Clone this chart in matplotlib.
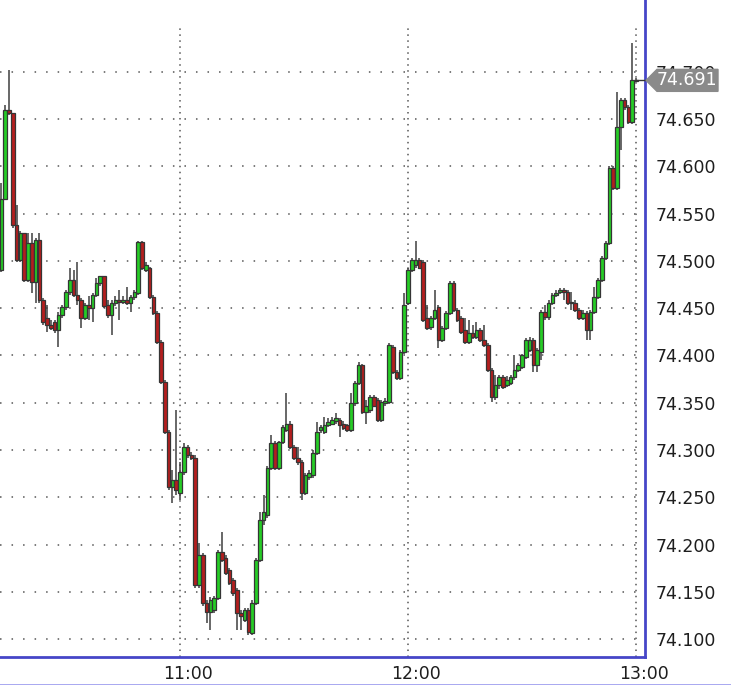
import matplotlib
matplotlib.use('Agg')
import matplotlib.pyplot as plt
import matplotlib.dates as mdates
import matplotlib.transforms as mtransforms
from matplotlib.patches import Polygon
from matplotlib.lines import Line2D
import pandas as pd

start_time = "2024-01-01 10:13"

opens = [74.490,74.566,74.660,74.656,74.538,74.501,74.529,74.480,74.519,74.478,
74.522,74.459,74.440,74.432,74.435,74.427,74.443,74.451,74.467,74.480,
74.464,74.459,74.440,74.453,74.450,74.464,74.477,74.484,74.453,74.443,
74.455,74.459,74.457,74.459,74.455,74.462,74.466,74.520,74.490,74.492,
74.462,74.445,74.414,74.372,74.319,74.261,74.268,74.255,74.277,74.303,
74.295,74.292,74.157,74.189,74.138,74.129,74.131,74.143,74.192,74.186,
74.173,74.162,74.152,74.128,74.120,74.131,74.106,74.138,74.184,74.226,
74.231,74.281,74.307,74.281,74.308,74.321,74.328,74.303,74.291,74.287,
74.254,74.271,74.273,74.297,74.321,74.319,74.326,74.328,74.331,74.332,
74.328,74.326,74.321,74.350,74.371,74.390,74.340,74.342,74.356,74.353,
74.332,74.350,74.351,74.409,74.382,74.376,74.404,74.455,74.490,74.496,
74.501,74.499,74.440,74.430,74.440,74.451,74.416,74.429,74.445,74.477,
74.448,74.440,74.427,74.414,74.424,74.419,74.427,74.416,74.411,74.385,
74.356,74.369,74.377,74.369,74.371,74.377,74.385,74.388,74.398,74.406,
74.416,74.390,74.404,74.446,74.441,74.455,74.464,74.467,74.469,74.467,
74.456,74.456,74.448,74.440,74.445,74.427,74.446,74.462,74.480,74.503,
74.519,74.598,74.577,74.642,74.670,74.663,74.647,74.690]

highs = [74.582,74.665,74.702,74.656,74.559,74.532,74.530,74.529,74.529,74.524,
74.530,74.461,74.453,74.437,74.437,74.446,74.453,74.469,74.492,74.490,
74.499,74.461,74.456,74.463,74.466,74.482,74.484,74.484,74.459,74.459,
74.463,74.469,74.463,74.472,74.464,74.469,74.521,74.521,74.499,74.494,
74.464,74.447,74.416,74.374,74.321,74.279,74.342,74.287,74.307,74.305,
74.298,74.295,74.202,74.191,74.141,74.144,74.145,74.194,74.213,74.189,
74.175,74.165,74.154,74.131,74.133,74.133,74.141,74.186,74.234,74.252,
74.283,74.316,74.309,74.310,74.326,74.360,74.331,74.305,74.303,74.289,
74.276,74.279,74.300,74.330,74.326,74.335,74.334,74.335,74.339,74.334,
74.331,74.328,74.360,74.373,74.393,74.391,74.353,74.358,74.358,74.355,
74.353,74.355,74.413,74.411,74.385,74.406,74.466,74.492,74.503,74.521,
74.503,74.501,74.453,74.442,74.469,74.453,74.431,74.447,74.479,74.479,
74.450,74.442,74.440,74.437,74.432,74.435,74.429,74.432,74.413,74.387,
74.379,74.379,74.379,74.378,74.379,74.400,74.392,74.402,74.418,74.420,
74.418,74.408,74.448,74.453,74.459,74.466,74.469,74.471,74.471,74.469,
74.467,74.459,74.450,74.448,74.447,74.448,74.472,74.482,74.505,74.521,
74.600,74.600,74.679,74.672,74.672,74.665,74.730,74.693]

lows = [74.488,74.564,74.654,74.535,74.499,74.499,74.478,74.478,74.466,74.455,
74.456,74.432,74.425,74.427,74.424,74.409,74.440,74.448,74.464,74.462,
74.453,74.429,74.437,74.437,74.435,74.462,74.473,74.450,74.440,74.422,
74.452,74.437,74.454,74.453,74.446,74.459,74.464,74.490,74.488,74.460,
74.443,74.412,74.370,74.317,74.258,74.244,74.252,74.247,74.273,74.291,
74.289,74.154,74.154,74.135,74.117,74.110,74.128,74.141,74.181,74.168,
74.157,74.145,74.110,74.110,74.118,74.104,74.104,74.136,74.181,74.221,
74.228,74.279,74.279,74.279,74.306,74.319,74.301,74.289,74.284,74.247,
74.252,74.268,74.270,74.295,74.318,74.317,74.324,74.326,74.328,74.314,
74.321,74.319,74.319,74.347,74.369,74.338,74.328,74.339,74.345,74.330,
74.330,74.347,74.349,74.380,74.374,74.374,74.401,74.453,74.488,74.492,
74.491,74.435,74.427,74.427,74.437,74.408,74.414,74.427,74.443,74.446,
74.435,74.423,74.412,74.412,74.417,74.417,74.414,74.409,74.382,74.351,
74.353,74.365,74.364,74.367,74.369,74.374,74.382,74.386,74.396,74.404,
74.382,74.382,74.395,74.437,74.437,74.453,74.462,74.465,74.459,74.453,
74.448,74.446,74.437,74.437,74.416,74.416,74.444,74.460,74.478,74.501,
74.517,74.575,74.575,74.617,74.660,74.645,74.645,74.690]

closes = [74.566,74.660,74.656,74.538,74.501,74.529,74.480,74.519,74.478,74.522,
74.459,74.435,74.432,74.429,74.427,74.443,74.451,74.467,74.480,74.464,
74.459,74.440,74.453,74.450,74.464,74.477,74.484,74.452,74.443,74.455,
74.459,74.457,74.459,74.456,74.462,74.467,74.520,74.492,74.496,74.462,
74.445,74.414,74.372,74.319,74.261,74.268,74.258,74.277,74.303,74.295,
74.291,74.157,74.189,74.138,74.129,74.141,74.143,74.192,74.184,74.170,
74.159,74.149,74.128,74.124,74.131,74.107,74.138,74.184,74.226,74.234,
74.281,74.307,74.281,74.308,74.324,74.328,74.303,74.291,74.287,74.254,
74.273,74.276,74.297,74.319,74.324,74.326,74.330,74.332,74.334,74.326,
74.323,74.321,74.350,74.371,74.390,74.340,74.347,74.356,74.347,74.332,
74.351,74.352,74.411,74.382,74.376,74.404,74.453,74.490,74.501,74.501,
74.493,74.437,74.429,74.440,74.448,74.416,74.429,74.445,74.477,74.448,
74.437,74.425,74.414,74.424,74.419,74.427,74.416,74.411,74.385,74.356,
74.369,74.377,74.367,74.374,74.377,74.385,74.390,74.400,74.416,74.416,
74.390,74.406,74.446,74.441,74.455,74.464,74.466,74.469,74.467,74.455,
74.455,74.448,74.440,74.445,74.427,74.446,74.462,74.480,74.503,74.519,
74.598,74.577,74.642,74.670,74.663,74.647,74.691,74.691]

y_ticks = [74.10, 74.15, 74.20, 74.25, 74.30, 74.35, 74.40, 74.45, 74.50, 74.55, 74.60, 74.65, 74.70]
x_tick_times = ["2024-01-01 11:00", "2024-01-01 12:00", "2024-01-01 13:00"]
last_price_label = "74.691"

GREEN = '#26cc26'
RED = '#b41e1e'
EDGE = '#353535'
SPINE = '#4646c8'
GRID = '#7a7a7a'

plt.rcParams['font.family'] = ['DejaVu Sans']
plt.rcParams['lines.scale_dashes'] = False

times = pd.date_range(start_time, periods=len(opens), freq='min')
x = mdates.date2num(times.to_pydatetime())
minute = 1.0 / 1440.0

fig = plt.figure(figsize=(7.31, 6.85), dpi=100)
fig.patch.set_facecolor('white')
ax = fig.add_axes([0.0, 28 / 685, 645 / 731, 1 - 28 / 685])
ax.set_facecolor('white')

ax.set_xlim(x[0] - 0.37 * minute, x[0] + 169.37 * minute)
ax.set_ylim(74.081, 74.776)

# grid
for yv in y_ticks:
    ax.axhline(yv, color=GRID, lw=1.4, ls=(0, (1.1, 7.2)), zorder=1)
xt = mdates.date2num(pd.to_datetime(x_tick_times).to_pydatetime())
for xv in xt:
    ax.axvline(xv, ymin=0, ymax=1 - 28 / 657, color=GRID, lw=1.4, ls=(0, (1.1, 3.2)), zorder=1)

# wicks
ax.vlines(x, lows, highs, color='#3f3f3f', lw=1.1, zorder=2)

# bodies
bottoms = [min(o, c) for o, c in zip(opens, closes)]
heights = [max(abs(c - o), 0.0012) for o, c in zip(opens, closes)]
colors = [GREEN if c >= o else RED for o, c in zip(opens, closes)]
ax.bar(x, heights, width=0.95 * minute, bottom=bottoms, color=colors,
       edgecolor=EDGE, linewidth=0.9, zorder=3, align='center')

# axes styling
for s in ['left', 'top']:
    ax.spines[s].set_visible(False)
ax.spines['right'].set_color(SPINE)
ax.spines['right'].set_linewidth(2.0)
ax.spines['bottom'].set_color(SPINE)
ax.spines['bottom'].set_linewidth(2.0)

ax.yaxis.tick_right()
ax.set_yticks(y_ticks)
ax.set_yticklabels([f"{v:.3f}" for v in y_ticks])
ax.set_xticks(xt)
ax.xaxis.set_major_formatter(mdates.DateFormatter('%H:%M'))
ax.tick_params(axis='y', length=0, pad=8, labelsize=12.5, colors='#1e1e1e')
ax.tick_params(axis='x', length=0, pad=6, labelsize=12.5, colors='#1e1e1e')
shift = mtransforms.ScaledTranslation(8 / 100, 0, fig.dpi_scale_trans)
for lbl in ax.get_xticklabels():
    lbl.set_horizontalalignment('center')
    lbl.set_transform(lbl.get_transform() + shift)

# last price tag
last = closes[-1]
trans = mtransforms.blended_transform_factory(fig.transFigure, ax.transData)
h = 11 * (ax.get_ylim()[1] - ax.get_ylim()[0]) / 657
tag = Polygon([(646 / 731, last), (657 / 731, last + h), (718 / 731, last + h),
               (718 / 731, last - h), (657 / 731, last - h)],
              closed=True, transform=trans, facecolor='#8a8a8a', edgecolor='#8a8a8a',
              clip_on=False, zorder=10)
fig.patches.append(tag)
fig.text(687 / 731, last, last_price_label, transform=trans, ha='center', va='center',
         color='white', fontsize=12.5, zorder=11)
ax.plot([x[-1], x[-1] + 2.4 * minute], [last, last], color='#333333', lw=1.0,
        zorder=4, clip_on=False)

# bottom border line
fig.lines.append(Line2D([0, 1], [0.5 / 685, 0.5 / 685], transform=fig.transFigure,
                        color='#9a9aee', lw=1.2))

fig.savefig('out.png', dpi=100, facecolor='white')
